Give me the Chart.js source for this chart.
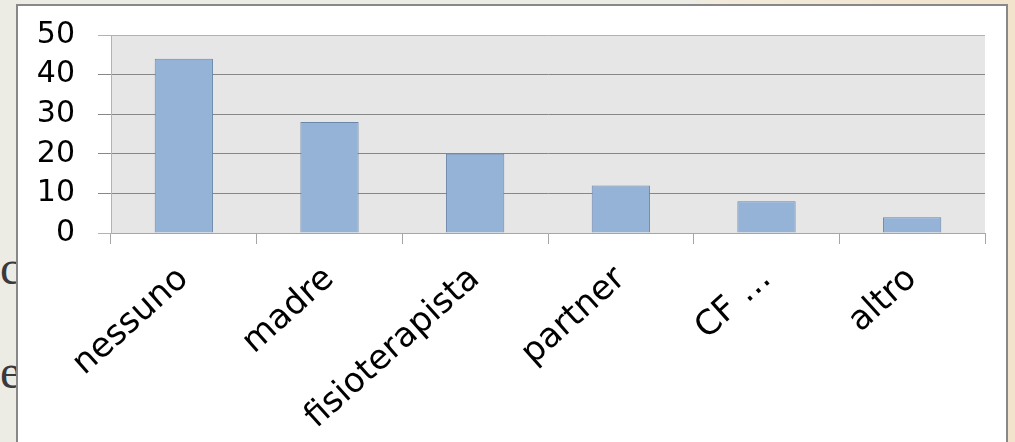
<!DOCTYPE html>
<html>
<head>
<meta charset="utf-8">
<script src="https://cdn.jsdelivr.net/npm/chart.js"></script>
<style>
    body {
        margin: 0;
        width: 1015px;
        height: 442px;
        overflow: hidden;
        position: relative;
        background: linear-gradient(90deg, #ecece5 0%, #ebece3 68%, #f3eadb 71%, #f2e4cc 100%);
    }
    .slideText {
        position: absolute;
        font-family: "Liberation Serif", serif;
        color: #3a3a3a;
    }
    #box {
        position: absolute;
        left: 16px;
        top: 4px;
        width: 992px;
        height: 460px;
        background: #fff;
        border: 2px solid #888;
        box-sizing: border-box;
    }
    #box canvas {
        position: absolute;
        left: 0;
        top: 0;
    }
</style>
</head>
<body>
<div class="slideText" style="left:-14px; top:-47px; font-size:50px; letter-spacing:3px;">esse alle Malattie</div>
<div class="slideText" style="left:0px; top:240px; font-size:48px;">c</div>
<div class="slideText" style="left:0px; top:344px; font-size:48px;">e</div>
<div id="box">
    <canvas id="helpChart" width="988" height="456"></canvas>
</div>
<script>
    const categories = ['nessuno', 'madre', 'fisioterapista', 'partner', 'CF \u2026', 'altro'];
    const answers = [44, 28, 20, 12, 8, 4];
    const yTicks = [0, 10, 20, 30, 40, 50];

    const labelFont = '"DejaVu Sans", sans-serif';

    // grey plot background like the office chart
    const plotBackground = {
        id: 'plotBackground',
        beforeDraw(chart) {
            const a = chart.chartArea;
            const ctx = chart.ctx;
            ctx.save();
            ctx.fillStyle = '#e6e6e6';
            ctx.fillRect(a.left, a.top, a.right - a.left, a.bottom - a.top);
            ctx.restore();
        }
    };

    const ctx = document.getElementById('helpChart').getContext('2d');
    new Chart(ctx, {
        type: 'bar',
        data: {
            labels: categories,
            datasets: [{
                data: answers,
                backgroundColor: '#95b3d7',
                borderColor: '#6a86ab',
                borderWidth: 1,
                barPercentage: 0.4,
                categoryPercentage: 1.0
            }]
        },
        options: {
            responsive: false,
            animation: false,
            layout: {
                padding: { top: 29, right: 21, left: 0, bottom: 0 }
            },
            plugins: {
                legend: { display: false },
                tooltip: { enabled: false }
            },
            scales: {
                x: {
                    grid: {
                        offset: true,
                        drawOnChartArea: false,
                        tickLength: 11,
                        color: '#a6a6a6'
                    },
                    border: { color: '#a6a6a6' },
                    ticks: {
                        minRotation: 42,
                        maxRotation: 42,
                        padding: 15,
                        color: '#000',
                        font: { family: labelFont, size: 34 }
                    },
                    afterFit(scale) {
                        scale.height = 229;
                        scale.paddingLeft = 0;
                        scale.paddingRight = 0;
                    }
                },
                y: {
                    min: 0,
                    max: 50,
                    afterBuildTicks(scale) {
                        scale.ticks = yTicks.map(v => ({ value: v }));
                    },
                    grid: {
                        tickLength: 13,
                        color: c => (c.tick && c.tick.value > 0 && c.tick.value < 50) ? '#878787' : '#b2b2b2'
                    },
                    border: { color: '#b2b2b2' },
                    ticks: {
                        autoSkip: false,
                        padding: 23,
                        color: '#000',
                        font: { family: labelFont, size: 30 }
                    },
                    afterFit(scale) {
                        scale.width = 93;
                        scale.paddingTop = 0;
                        scale.paddingBottom = 0;
                    }
                }
            }
        },
        plugins: [plotBackground]
    });
</script>
</body>
</html>
